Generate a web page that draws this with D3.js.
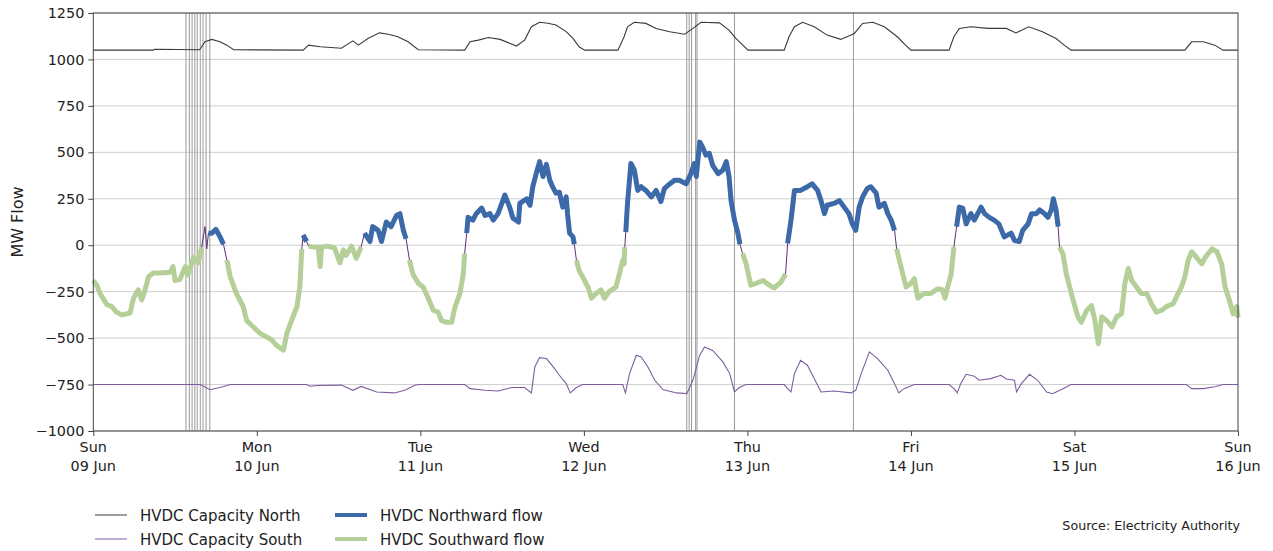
<!DOCTYPE html>
<html>
<head>
<meta charset="utf-8">
<script src="https://cdn.jsdelivr.net/npm/d3@7"></script>
<style>
  body { margin: 0; background: #fff; }
  svg { display: block; font-family: "DejaVu Sans", sans-serif; }
</style>
</head>
<body>
<div id="chart"></div>
<script>
// hours since Sun 09 Jun 00:00
var flowHours = [0,0.5,1,2,2.7,3.4,4.2,5.4,5.9,6.6,7.1,7.6,8.1,8.8,9.8,11.3,11.7,12,12.7,13.5,13.9,14.7,15.4,15.9,16.4,16.65,16.9,17.4,18,18.6,19.1,19.6,20.1,21,22,22.5,23.5,24.5,25.5,26.2,26.9,27.9,28.4,29.1,29.9,30.3,30.6,30.8,31.3,31.6,32.3,33,33.3,33.5,34.4,35.4,36.2,36.7,37.1,37.9,38.6,39.3,39.8,40.6,41,41.8,42.3,43,43.7,44.5,45,45.5,45.9,46.4,46.9,47.7,48.4,49.1,49.9,50.6,51.1,51.8,52.6,53.1,53.8,54.3,54.5,54.8,55,55.7,56.2,57,57.5,58.2,58.7,59.4,60.4,61.1,61.6,62.4,62.6,63.6,64.1,64.5,65,65.5,66,66.5,67,67.4,67.9,68.4,68.9,69.4,69.6,69.9,70.4,70.6,70.9,71.3,72.1,72.6,73.1,73.8,74.5,75,75.7,76.7,77.2,77.7,77.9,78.0,78.15,78.4,78.9,79.4,79.9,80.4,81.1,81.9,82.6,83.3,83.8,84.6,85.3,86,87,87.7,88.2,88.5,89,89.4,89.9,90.4,90.9,91.7,92.4,92.9,93.3,93.6,94.1,94.6,94.9,95.3,95.8,96.5,97.3,98.3,99.2,99.9,100.9,101.6,101.9,102.4,102.9,103.8,104.8,105.5,106.3,106.8,107.3,107.7,108.7,109.5,110.2,110.9,111.4,111.9,112.4,112.9,113.6,114.1,114.9,115.3,116.1,116.6,117.1,117.6,117.9,118.3,118.8,119.3,120,120.5,121,121.9,122.9,123.9,124.6,125,125.4,125.9,126.3,126.7,127.1,127.6,128.1,128.8,129.3,130.3,130.8,131.5,132.2,132.9,133.7,134.7,135.2,135.9,136.4,137.2,137.7,138.4,138.9,139.6,140.1,140.6,140.9,141.3,141.6,141.8,142.3,142.8,143.3,143.8,144.5,145,145.8,146.5,147,147.5,148,148.7,149.5,150.2,150.9,151.4,151.9,152.4,153.1,153.8,154.6,155.3,156,156.8,157.5,158.5,159.2,159.7,160.2,160.7,161.2,161.9,162.7,163.2,164.2,164.9,165.6,166.1,166.6,167.3,167.8,168];
var flowMW = [-190,-215,-260,-320,-330,-360,-375,-365,-285,-240,-295,-240,-170,-150,-150,-145,-115,-190,-185,-115,-160,-65,-95,-10,100,-20,65,65,85,45,5,-80,-170,-260,-330,-405,-440,-475,-495,-510,-540,-565,-475,-405,-330,-225,-20,55,20,-5,-10,-10,-115,-10,-5,-15,-95,-25,-55,-5,-70,-10,65,20,100,80,20,125,100,160,170,80,35,-80,-155,-205,-225,-280,-350,-360,-405,-415,-415,-330,-260,-155,-45,65,150,135,170,200,160,170,135,170,270,205,145,125,225,250,215,315,385,450,370,435,350,315,280,285,205,260,170,65,45,5,-80,-135,-190,-225,-285,-260,-240,-285,-250,-225,-155,-80,-100,-10,70,225,440,405,295,315,295,260,295,235,305,330,350,350,330,385,440,370,555,530,485,495,430,385,405,450,370,240,135,65,5,-45,-100,-215,-205,-190,-215,-230,-200,-155,10,135,295,295,315,330,295,240,170,215,225,240,205,170,115,80,205,260,305,315,280,205,225,170,135,80,-20,-80,-155,-225,-205,-180,-285,-260,-260,-235,-240,-285,-225,-155,-10,100,205,200,115,170,135,205,170,150,135,115,45,65,25,20,80,115,170,170,190,170,150,190,250,190,100,-10,-45,-155,-225,-295,-385,-415,-350,-325,-405,-530,-385,-405,-440,-385,-370,-205,-125,-190,-225,-260,-260,-315,-360,-350,-330,-315,-260,-225,-170,-80,-35,-65,-100,-65,-20,-35,-100,-225,-280,-370,-330,-390];

var capNorthHours = [0,8.8,9,15.6,16.4,17.4,18.6,19.6,20.6,30.8,31.6,33.3,36.4,38.1,38.9,40.3,42,43.3,44.7,46.2,47.7,54.5,55.3,56.5,58,59.7,61.2,62.1,63.3,64.3,65.5,66.7,67.9,69.4,70.4,71.3,72.1,77,77.9,78.4,79.4,81.1,82.6,84.6,86.8,88,89.2,91.9,93.3,94.3,96.1,101.4,102.1,102.9,104.1,105.8,107.7,109.7,111.7,112.9,114.4,116.1,118,119.2,120,125.6,126.3,127.1,128.8,131.3,134,135.4,137.3,139.3,141.3,142.5,143.5,160.2,161.2,162.9,164.6,165.8,168];
var capNorthMW = [1050,1050,1055,1052,1095,1108,1095,1077,1052,1050,1077,1068,1060,1100,1077,1113,1143,1136,1122,1095,1052,1050,1095,1104,1118,1108,1086,1072,1104,1176,1200,1195,1185,1150,1113,1068,1050,1050,1122,1176,1200,1194,1167,1149,1136,1167,1200,1197,1158,1113,1050,1050,1122,1176,1200,1176,1131,1108,1140,1194,1200,1176,1122,1077,1050,1050,1122,1167,1176,1167,1167,1143,1176,1149,1113,1077,1050,1050,1095,1095,1077,1050,1050];

var capSouthHours = [0,15.7,17.1,18.6,20.1,31.3,31.8,33,36.4,38.1,39.3,41.6,44.2,45.7,47.2,47.8,54.5,55.3,57.5,59.4,61.4,63.3,64.3,64.8,65.5,66.5,67.5,68.4,69.4,70,70.9,71.8,77.7,78.1,78.7,79.7,80.4,81.4,82.4,83.6,85.6,87.1,88,89,89.7,90.9,92.4,93.4,94.1,94.8,95.8,101.4,101.9,102.4,102.9,103.8,104.8,105.8,106.8,108.7,111.2,111.9,112.7,113.9,115.1,116.6,117.6,118.2,119,120.5,125.6,126.3,126.8,127.3,128.1,129.3,130,131.7,133.2,134,135.2,135.5,136.2,137.4,138.6,139.9,140.8,142.3,143.5,160.4,161.2,162.9,164.6,165.8,168];
var capSouthMW = [-750,-750,-778,-766,-750,-750,-759,-755,-753,-781,-760,-790,-795,-781,-754,-750,-750,-772,-781,-785,-766,-766,-795,-655,-605,-610,-655,-700,-745,-795,-766,-750,-750,-795,-691,-592,-601,-655,-727,-777,-795,-799,-727,-592,-548,-566,-628,-691,-790,-766,-750,-750,-772,-790,-691,-619,-646,-718,-790,-785,-795,-781,-691,-574,-610,-673,-745,-795,-772,-750,-750,-772,-795,-745,-695,-705,-727,-718,-700,-720,-727,-790,-745,-695,-727,-790,-799,-772,-750,-750,-772,-772,-762,-750,-750];

// vertical marker lines (hours)
var markerHours = [13.6,14.1,14.5,14.9,15.25,15.7,16.1,16.55,17.1,87.1,87.45,87.8,88.4,88.6,94.1,111.56];

var yTicks = [-1000,-750,-500,-250,0,250,500,750,1000,1250];

var legendItems = [
    {label: "HVDC Capacity North", color: "#3a3a3a", width: 1},
    {label: "HVDC Capacity South", color: "#7d5d9e", width: 1},
    {label: "HVDC Northward flow", color: "#3c69a8", width: 4},
    {label: "HVDC Southward flow", color: "#b5cf98", width: 4}
];

var width = 1273, height = 551;
var margin = {top: 13, right: 35, bottom: 120, left: 93.3};
var t0 = Date.UTC(2024, 5, 9);

function toDate(h) { return new Date(t0 + h * 3600000); }
function zip(hs, vs) { return hs.map(function (h, i) { return {t: toDate(h), v: vs[i]}; }); }

var flow = zip(flowHours, flowMW);
var capNorth = zip(capNorthHours, capNorthMW);
var capSouth = zip(capSouthHours, capSouthMW);

var svg = d3.select("#chart").append("svg")
    .attr("width", width)
    .attr("height", height);

var x = d3.scaleUtc()
    .domain([toDate(0), toDate(168)])
    .range([margin.left, width - margin.right]);

var y = d3.scaleLinear()
    .domain([-1000, 1250])
    .range([height - margin.bottom, margin.top]);

// horizontal grid
svg.append("g")
    .selectAll("line")
    .data(yTicks)
    .enter().append("line")
    .attr("x1", margin.left)
    .attr("x2", width - margin.right)
    .attr("y1", function (d) { return y(d); })
    .attr("y2", function (d) { return y(d); })
    .attr("stroke", "#cfcfcf")
    .attr("stroke-width", 1);

// marker lines
svg.append("g")
    .selectAll("line")
    .data(markerHours)
    .enter().append("line")
    .attr("x1", function (d) { return x(toDate(d)); })
    .attr("x2", function (d) { return x(toDate(d)); })
    .attr("y1", margin.top)
    .attr("y2", height - margin.bottom)
    .attr("stroke", "#9a9a9a")
    .attr("stroke-width", 1);

var line = d3.line()
    .x(function (d) { return x(d.t); })
    .y(function (d) { return y(d.v); });

svg.append("path").datum(capNorth)
    .attr("fill", "none").attr("stroke", legendItems[0].color).attr("stroke-width", 1.1)
    .attr("d", line);

svg.append("path").datum(capSouth)
    .attr("fill", "none").attr("stroke", legendItems[1].color).attr("stroke-width", 1.1)
    .attr("d", line);

// thin total flow underneath
svg.append("path").datum(flow)
    .attr("fill", "none").attr("stroke", "#5e2f72").attr("stroke-width", 1)
    .attr("d", line);

svg.append("path").datum(flow)
    .attr("fill", "none").attr("stroke", legendItems[3].color).attr("stroke-width", 5)
    .attr("stroke-linejoin", "round")
    .attr("d", line.defined(function (d) { return d.v <= 0; }));

svg.append("path").datum(flow)
    .attr("fill", "none").attr("stroke", legendItems[2].color).attr("stroke-width", 5)
    .attr("stroke-linejoin", "round")
    .attr("d", line.defined(function (d) { return d.v > 0; }));

// frame
svg.append("rect")
    .attr("x", margin.left).attr("y", margin.top)
    .attr("width", width - margin.right - margin.left)
    .attr("height", height - margin.bottom - margin.top)
    .attr("fill", "none").attr("stroke", "#444").attr("stroke-width", 1);

// y axis
var yAxis = svg.append("g")
    .attr("transform", "translate(" + margin.left + ",0)")
    .call(d3.axisLeft(y).tickValues(yTicks).tickSize(5).tickPadding(4)
        .tickFormat(function (d) { return d < 0 ? "\u2212" + Math.abs(d) : d; }));
yAxis.select(".domain").remove();
yAxis.selectAll("line").attr("stroke", "#444");
yAxis.selectAll("text").attr("font-size", "14.4px").attr("fill", "#222")
    .attr("font-family", "DejaVu Sans, sans-serif");

// x axis
var xAxis = svg.append("g")
    .attr("transform", "translate(0," + (height - margin.bottom) + ")")
    .call(d3.axisBottom(x).ticks(d3.utcDay.every(1)).tickSize(5).tickFormat(""));
xAxis.select(".domain").remove();
xAxis.selectAll("line").attr("stroke", "#444");

var fmtDay = d3.utcFormat("%a"), fmtDate = d3.utcFormat("%d %b");
var xLabels = svg.append("g").selectAll("text")
    .data(x.ticks(d3.utcDay.every(1)))
    .enter().append("text")
    .attr("x", function (d) { return x(d); })
    .attr("y", height - margin.bottom + 21)
    .attr("text-anchor", "middle")
    .attr("font-size", "14.4px")
    .attr("fill", "#222");
xLabels.append("tspan").attr("x", function (d) { return x(d); }).text(function (d) { return fmtDay(d); });
xLabels.append("tspan").attr("x", function (d) { return x(d); }).attr("dy", 19).text(function (d) { return fmtDate(d); });

// y label
svg.append("text")
    .attr("transform", "translate(23," + ((margin.top + height - margin.bottom) / 2) + ") rotate(-90)")
    .attr("text-anchor", "middle")
    .attr("font-size", "16px")
    .attr("fill", "#222")
    .text("MW Flow");

// legend
var legend = svg.append("g").attr("transform", "translate(95,515)");
var legendRows = legend.selectAll("g")
    .data(legendItems)
    .enter().append("g")
    .attr("transform", function (d, i) {
        return "translate(" + (Math.floor(i / 2) * 240) + "," + ((i % 2) * 24) + ")";
    });
legendRows.append("line")
    .attr("x1", 0).attr("x2", 32)
    .attr("stroke", function (d) { return d.color; })
    .attr("stroke-width", function (d) { return d.width; });
legendRows.append("text")
    .attr("x", 45).attr("y", 5.5)
    .attr("font-size", "15px")
    .attr("fill", "#222")
    .text(function (d) { return d.label; });

svg.append("text")
    .attr("x", 1240).attr("y", 530)
    .attr("text-anchor", "end")
    .attr("font-size", "12.7px")
    .attr("fill", "#222")
    .text("Source: Electricity Authority");
</script>
</body>
</html>
